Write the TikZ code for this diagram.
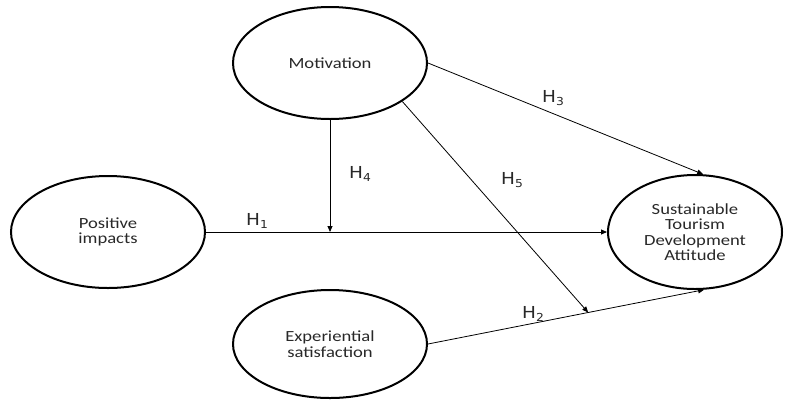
\documentclass[tikz,border=0pt]{standalone}
\usepackage{fontspec}
\usetikzlibrary{shapes.geometric,arrows.meta,calc}
\definecolor{txt}{RGB}{40,40,40}
\newfontfamily\labfont[FakeStretch=1.2]{Carlito}
\newfontfamily\hypfont[FakeStretch=1.12]{DejaVu Sans}
\newcommand{\hyp}[1]{{\hypfont H\raisebox{-0.3ex}{\fontsize{11}{11}\selectfont #1}}}
\begin{document}
\begin{tikzpicture}[x=1pt,y=-1pt,
  construct/.style={draw,ellipse,line width=2pt,inner sep=0pt,align=center,text=txt,
    font=\labfont\fontsize{15.5}{15.5}\selectfont},
  conn/.style={line width=0.8pt,-{Triangle[length=6pt,width=5pt]}},
  hlab/.style={font=\fontsize{16.5}{16.5}\selectfont,inner sep=0pt,text=txt}]
\useasboundingbox (0,0) rectangle (791,400);
\node[construct,minimum width=194pt,minimum height=112pt] (mot) at (330,63) {Motivation};
\node[construct,minimum width=194pt,minimum height=112pt] (pos) at (108,232) {Positive\\impacts};
\node[construct,minimum width=174pt,minimum height=114pt] (sus) at (695,232) {Sustainable\\Tourism\\Development\\Attitude};
\node[construct,minimum width=194pt,minimum height=108pt] (exp) at (330,344) {Experiential\\satisfaction};
\draw[conn] (pos.east) -- (sus.west);
\coordinate (m1) at (mot.south |- pos.east);
\draw[conn] (mot.south) -- (m1);
\draw[conn] (mot.east) -- (sus.82);
\draw[conn] (exp.east) -- (sus.-81);
\coordinate (m2) at ($(exp.east)!0.58!(sus.-81)$);
\draw[conn] (mot.-28) -- (m2);
\node[hlab] (h1) at (257,221) {\hyp{1}};
\node[hlab] (h2) at (533,314) {\hyp{2}};
\node[hlab] (h3) at (553,98) {\hyp{3}};
\node[hlab] (h4) at (360,174) {\hyp{4}};
\node[hlab] (h5) at (512,180) {\hyp{5}};
\end{tikzpicture}
\end{document}
